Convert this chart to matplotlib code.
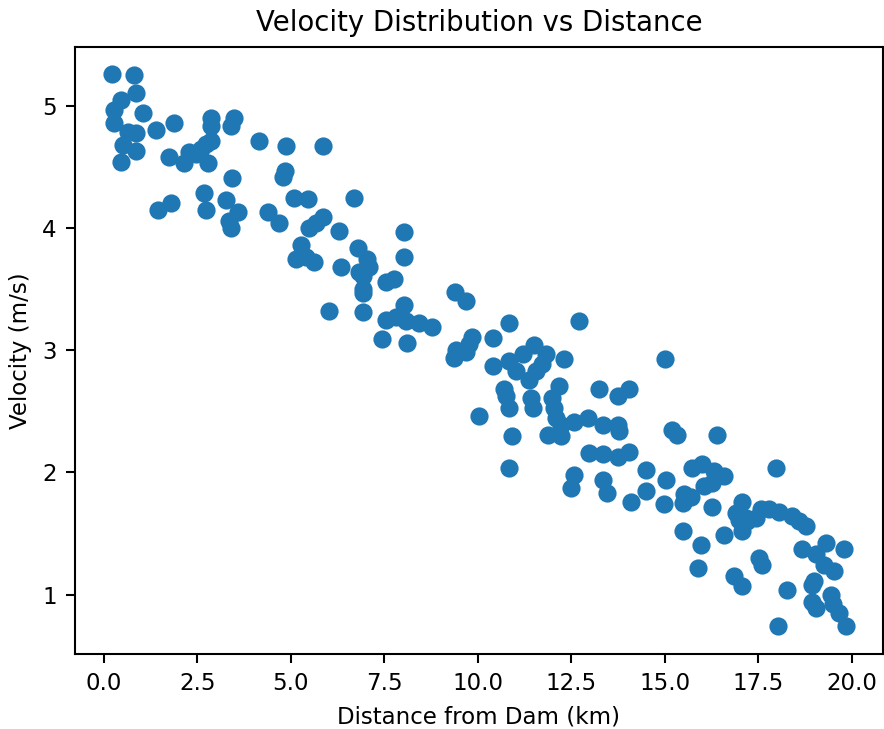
import numpy as np
import matplotlib
matplotlib.use("Agg")
import matplotlib.pyplot as plt

distance = [
    0.21, 0.82, 0.86, 0.46, 0.28, 1.04, 0.28, 1.87, 2.87, 2.87, 3.49, 3.40, 1.40,
    0.64, 0.86, 0.50, 0.86, 0.46, 1.75, 2.15, 2.29, 2.73, 2.87, 2.78, 2.46, 2.60,
    4.16, 3.44, 2.69, 1.80, 1.44, 2.73, 3.27, 3.58, 3.36, 3.40, 4.38, 4.69,
    4.87, 5.87, 4.85, 4.78, 5.09, 5.45, 6.70, 5.85, 5.68, 5.49, 6.30, 8.03, 5.27,
    6.79, 5.14, 5.63, 5.41, 6.34, 7.05, 7.10, 8.03, 6.83, 6.92, 7.55, 7.77, 6.92,
    6.92, 6.03, 6.92, 7.55, 7.81, 8.03, 8.08, 8.44, 8.79, 7.45, 8.12,
    9.40, 9.70, 10.84, 12.71, 10.40, 9.86, 9.77, 9.42, 9.68, 9.37, 10.40, 10.84,
    11.02, 11.20, 11.51, 11.82, 11.73, 11.56, 11.38, 12.31, 12.18, 10.71, 10.75,
    10.84, 10.04, 11.42, 11.47, 12.00, 12.05, 12.09, 12.22, 13.25, 13.74, 14.05,
    12.58, 12.94, 13.34, 13.74, 13.78, 10.93, 11.87, 12.22, 12.98, 13.34, 13.74,
    14.05, 10.84, 12.58, 12.49, 13.34, 13.47, 14.50, 14.50, 14.10,
    15.01, 15.21, 15.34, 16.41, 15.74, 16.01, 16.32, 16.59, 16.06, 16.28, 15.03,
    14.99, 15.52, 15.70, 15.48, 16.28, 17.08, 16.90, 17.17, 17.08, 15.48, 16.59,
    15.97,
    17.97, 17.00, 17.21, 17.44, 17.57, 17.79, 18.06, 18.42, 18.60, 18.78, 18.68,
    19.31, 19.80, 19.04, 19.26, 19.53, 17.53, 17.61, 15.89, 16.86, 17.08, 19.00,
    18.95, 18.28, 18.95, 19.04, 19.44, 19.49, 19.66, 18.02, 19.85,
]
velocity = [
    5.26, 5.25, 5.11, 5.05, 4.97, 4.94, 4.86, 4.86, 4.90, 4.84, 4.90, 4.84, 4.80,
    4.79, 4.78, 4.68, 4.63, 4.54, 4.58, 4.53, 4.62, 4.69, 4.71, 4.53, 4.61, 4.65,
    4.71, 4.41, 4.29, 4.21, 4.15, 4.15, 4.23, 4.13, 4.06, 4.00, 4.13, 4.04,
    4.67, 4.67, 4.47, 4.42, 4.25, 4.24, 4.25, 4.09, 4.04, 4.00, 3.98, 3.97, 3.86,
    3.84, 3.75, 3.72, 3.76, 3.68, 3.75, 3.68, 3.76, 3.64, 3.61, 3.56, 3.58, 3.50,
    3.47, 3.32, 3.31, 3.25, 3.27, 3.37, 3.24, 3.22, 3.19, 3.09, 3.06,
    3.48, 3.40, 3.22, 3.24, 3.10, 3.11, 3.05, 3.00, 2.99, 2.94, 2.87, 2.91,
    2.83, 2.97, 3.04, 2.97, 2.89, 2.83, 2.76, 2.93, 2.71, 2.68, 2.63,
    2.53, 2.46, 2.61, 2.53, 2.61, 2.53, 2.45, 2.39, 2.68, 2.63, 2.68,
    2.41, 2.45, 2.39, 2.39, 2.34, 2.30, 2.31, 2.30, 2.16, 2.15, 2.13,
    2.17, 2.04, 1.98, 1.87, 1.94, 1.83, 2.02, 1.85, 1.76,
    2.93, 2.35, 2.31, 2.31, 2.04, 2.07, 2.01, 1.97, 1.89, 1.91, 1.94,
    1.74, 1.82, 1.80, 1.75, 1.72, 1.76, 1.67, 1.63, 1.52, 1.52, 1.49,
    1.41,
    2.04, 1.61, 1.60, 1.63, 1.70, 1.70, 1.68, 1.64, 1.60, 1.56, 1.37,
    1.42, 1.37, 1.33, 1.24, 1.19, 1.30, 1.24, 1.22, 1.15, 1.07, 1.11,
    1.08, 1.04, 0.94, 0.89, 1.00, 0.92, 0.85, 0.74, 0.74,
]

plt.rcParams['font.size'] = 8.8

dpi = 187
fig = plt.figure(figsize=(884 / dpi, 729 / dpi), dpi=dpi)
ax = fig.add_axes([0.0848, 0.1029, 0.9137, 0.8331])

ax.scatter(distance, velocity)
ax.set_title('Velocity Distribution vs Distance', fontsize=10.6)
ax.set_xlabel('Distance from Dam (km)')
ax.set_ylabel('Velocity (m/s)')

fig.savefig('out.png', dpi=dpi)
